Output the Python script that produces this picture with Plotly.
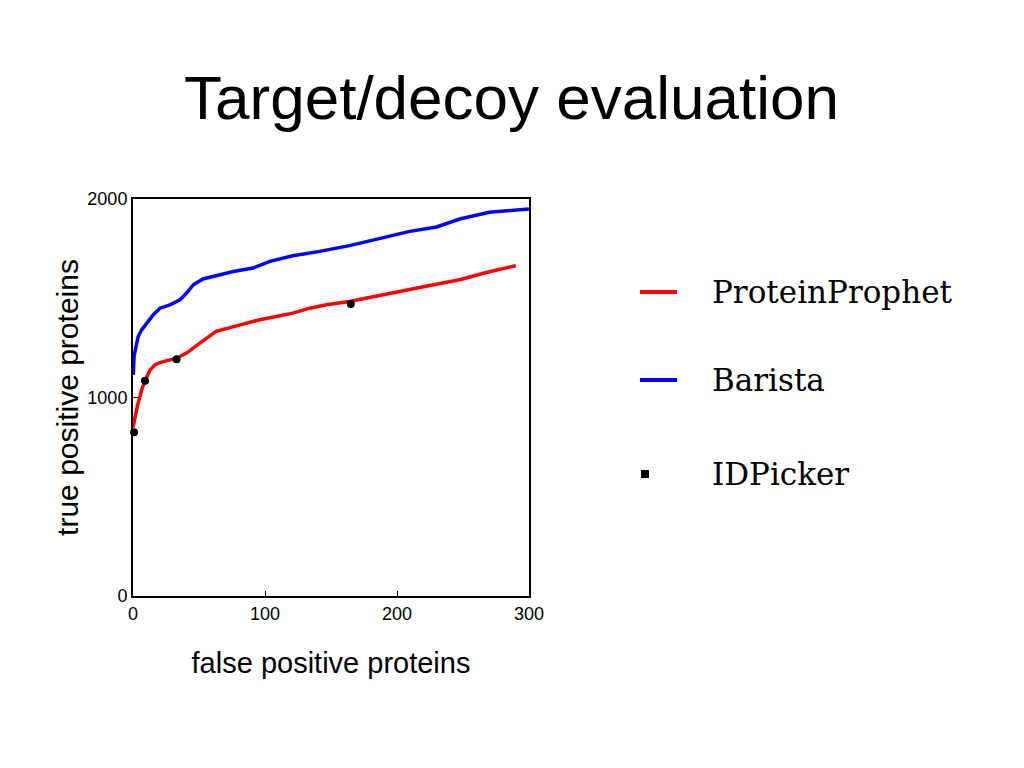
import plotly.graph_objects as go

# ProteinProphet (red)
pp_fp = [0, 0.8, 2.3, 3.5, 5.3, 6.6, 9.1, 12.9, 16.7, 20.4, 33, 40.6, 50.7, 63, 78.5, 96,
         108.7, 121, 134, 146.6, 164, 184, 204.6, 222, 247.5, 267.7, 290]
pp_tp = [850, 880, 938, 963, 1005, 1039, 1084, 1139, 1165, 1176, 1198, 1224, 1274, 1333, 1361, 1392,
         1408, 1425, 1450, 1467, 1484, 1509, 1534, 1560, 1593, 1630, 1664]

# Barista (blue)
ba_fp = [0.25, 0.8, 2.3, 4, 6.6, 10.3, 15.4, 20.4, 28, 35.6, 40.6, 45.7, 53, 63, 76, 91,
         103.7, 121, 141.5, 164, 184, 209.7, 230, 247.5, 270, 300]
ba_tp = [1114, 1207, 1257, 1308, 1341, 1375, 1417, 1450, 1467, 1492, 1526, 1568, 1597, 1613, 1635, 1652,
         1686, 1714, 1736, 1765, 1798, 1837, 1859, 1899, 1933, 1950]

# IDPicker (points)
id_fp = [0.8, 9.1, 33, 165]
id_tp = [825, 1084, 1193, 1471]

legend_names = ["ProteinProphet", "Barista", "IDPicker"]
legend_colors = ["#ff0000", "#0000ff", "#000000"]

fig = go.Figure()
fig.add_trace(go.Scatter(x=pp_fp, y=pp_tp, mode="lines", name=legend_names[0],
                         line=dict(color=legend_colors[0], width=3.5), showlegend=False))
fig.add_trace(go.Scatter(x=ba_fp, y=ba_tp, mode="lines", name=legend_names[1],
                         line=dict(color=legend_colors[1], width=3.5), showlegend=False))
fig.add_trace(go.Scatter(x=id_fp, y=id_tp, mode="markers", name=legend_names[2],
                         marker=dict(color=legend_colors[2], size=8), showlegend=False,
                         cliponaxis=False))

# manual legend (plot-area paper coords: x 133..529 px, y 596..199 px on screen)
def px2x(px):
    return (px - 133) / 396.0

def py2y(py):
    return (596 - py) / 397.0

leg_y = [292, 380, 474]
shapes = []
annotations = []
for i, (name, col, yy) in enumerate(zip(legend_names, legend_colors, leg_y)):
    if i < 2:
        shapes.append(dict(type="line", xref="paper", yref="paper",
                           x0=px2x(640), x1=px2x(677), y0=py2y(yy), y1=py2y(yy),
                           line=dict(color=col, width=4)))
    else:
        shapes.append(dict(type="rect", xref="paper", yref="paper",
                           x0=px2x(641), x1=px2x(649), y0=py2y(yy + 4), y1=py2y(yy - 4),
                           line=dict(width=0), fillcolor=col))
    annotations.append(dict(text=name, xref="paper", yref="paper", x=px2x(710), y=py2y(yy),
                            xanchor="left", yanchor="middle", showarrow=False,
                            font=dict(family="DejaVu Serif", size=31, color="black")))

fig.update_layout(
    width=1024, height=768,
    margin=dict(l=125, r=503, t=191, b=180),
    paper_bgcolor="white", plot_bgcolor="white",
    font=dict(family="Liberation Sans, Arial, sans-serif", color="black"),
    title=dict(text="Target/decoy evaluation", x=0.4917, xanchor="center", xref="container",
               y=1 - 89 / 768, yanchor="middle", yref="container",
               font=dict(family="Liberation Sans, Arial, sans-serif", size=62, color="black")),
    shapes=shapes, annotations=annotations,
    xaxis=dict(range=[0, 300], tickvals=[0, 100, 200, 300], ticks="inside", ticklen=5,
               tickwidth=1, tickcolor="black", showline=True, linecolor="black", linewidth=2,
               mirror=True, showgrid=False, zeroline=False, tickfont=dict(size=18),
               title=dict(text="false positive proteins", font=dict(size=29), standoff=30)),
    yaxis=dict(range=[0, 2000], tickvals=[0, 1000, 2000], ticks="inside", ticklen=5,
               tickwidth=1, tickcolor="black", showline=True, linecolor="black", linewidth=2,
               mirror=True, showgrid=False, zeroline=False, tickfont=dict(size=18),
               title=dict(text="true positive proteins", font=dict(size=30), standoff=0)),
)

fig.write_html("out.html")
